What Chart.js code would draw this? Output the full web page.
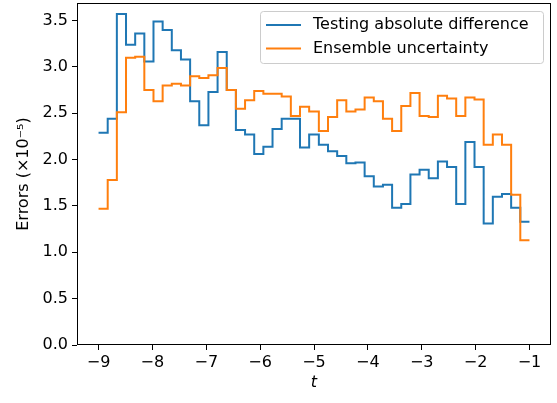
<!DOCTYPE html>
<html>
<head>
<meta charset="utf-8">
<script src="https://cdn.jsdelivr.net/npm/chart.js@4.4.0/dist/chart.umd.min.js"></script>
<style>
  html, body { margin: 0; padding: 0; background: #fff; }
  #wrap { position: relative; width: 557px; height: 403px; }
</style>
</head>
<body>
<div id="wrap"><canvas id="errChart" width="557" height="403"></canvas></div>
<script>
// ── Data (errors in units of 1e-5) ──────────────────────────────────────────
// step edges along t (48 edges -> 47 steps)
const T_EDGES = [
  -9.00, -8.83, -8.66, -8.49, -8.32, -8.15, -7.98, -7.81, -7.64, -7.47,
  -7.30, -7.13, -6.96, -6.79, -6.62, -6.45, -6.28, -6.11, -5.94, -5.77,
  -5.60, -5.43, -5.26, -5.09, -4.91, -4.74, -4.57, -4.40, -4.23, -4.06,
  -3.89, -3.72, -3.55, -3.38, -3.21, -3.04, -2.87, -2.70, -2.53, -2.36,
  -2.19, -2.02, -1.85, -1.68, -1.51, -1.34, -1.17, -1.00
];
const ABS_DIFF = [
  2.29, 2.44, 3.57, 3.24, 3.36, 3.06, 3.49, 3.40, 3.18, 3.08,
  2.63, 2.37, 2.73, 3.16, 2.75, 2.32, 2.27, 2.06, 2.14, 2.33,
  2.44, 2.44, 2.13, 2.27, 2.16, 2.09, 2.04, 1.96, 1.97, 1.82,
  1.71, 1.73, 1.48, 1.52, 1.84, 1.89, 1.80, 1.98, 1.92, 1.52,
  2.19, 1.92, 1.31, 1.60, 1.63, 1.48, 1.33
];
const ENS_UNCERT = [
  1.47, 1.78, 2.51, 3.10, 3.11, 2.75, 2.63, 2.80, 2.82, 2.80,
  2.90, 2.88, 2.91, 2.99, 2.75, 2.55, 2.64, 2.74, 2.71, 2.71,
  2.68, 2.47, 2.57, 2.52, 2.31, 2.46, 2.64, 2.52, 2.54, 2.67,
  2.63, 2.44, 2.31, 2.58, 2.72, 2.47, 2.46, 2.69, 2.66, 2.47,
  2.67, 2.65, 2.16, 2.27, 2.16, 1.62, 1.13
];
const SERIES_LABELS = ['Testing absolute difference', 'Ensemble uncertainty'];
const X_TICKS = [-9, -8, -7, -6, -5, -4, -3, -2, -1];
const Y_TICKS = [0, 0.5, 1.0, 1.5, 2.0, 2.5, 3.0, 3.5];

// ── Look ────────────────────────────────────────────────────────────────────
const FONT = "'DejaVu Sans', sans-serif";
const FS = 16;
const C_BLUE = '#1f77b4';
const C_ORANGE = '#ff7f0e';

// stairs: each value holds from edge i to edge i+1
// (Chart.js 'before' = horizontal at previous y, then vertical)
function stairs(values) {
  const pts = values.map((v, i) => ({ x: T_EDGES[i], y: v }));
  pts.push({ x: T_EDGES[T_EDGES.length - 1], y: values[values.length - 1] });
  return pts;
}

const minus = v => (v < 0 ? '\u2212' + Math.abs(v) : String(v));

// full box around the plot area (matplotlib spines)
const spinesPlugin = {
  id: 'spines',
  afterDraw(chart) {
    const { ctx, chartArea: a } = chart;
    ctx.save();
    ctx.strokeStyle = '#000';
    ctx.lineWidth = 1;
    ctx.strokeRect(Math.round(a.left) + 0.5, Math.round(a.top) + 0.5,
                   Math.round(a.right - a.left) - 1, Math.round(a.bottom - a.top) - 1);
    ctx.restore();
  }
};

// matplotlib-style legend, upper right
const legendPlugin = {
  id: 'mplLegend',
  afterDraw(chart) {
    const { ctx } = chart;
    const x = 260.5, y = 11.5, w = 283, h = 52, r = 3;
    ctx.save();
    ctx.beginPath();
    ctx.roundRect(x, y, w, h, r);
    ctx.fillStyle = 'rgba(255,255,255,0.8)';
    ctx.fill();
    ctx.strokeStyle = '#cccccc';
    ctx.lineWidth = 1;
    ctx.stroke();
    chart.data.datasets.forEach((ds, i) => {
      const ly = 25 + i * 23.5;
      ctx.beginPath();
      ctx.moveTo(266, ly);
      ctx.lineTo(301, ly);
      ctx.strokeStyle = ds.borderColor;
      ctx.lineWidth = 2;
      ctx.stroke();
      ctx.fillStyle = '#000';
      ctx.font = `${FS}px ${FONT}`;
      ctx.textBaseline = 'middle';
      ctx.fillText(ds.label, 313, ly);
    });
    ctx.restore();
  }
};

new Chart(document.getElementById('errChart'), {
  type: 'line',
  data: {
    datasets: [
      {
        label: SERIES_LABELS[0],
        data: stairs(ABS_DIFF),
        borderColor: C_BLUE,
        borderWidth: 2,
        stepped: 'before',
        pointRadius: 0,
        fill: false,
        order: 1,
      },
      {
        label: SERIES_LABELS[1],
        data: stairs(ENS_UNCERT),
        borderColor: C_ORANGE,
        borderWidth: 2,
        stepped: 'before',
        pointRadius: 0,
        fill: false,
        order: 0,
      },
    ],
  },
  options: {
    responsive: false,
    animation: false,
    devicePixelRatio: 1,
    layout: { padding: { left: 0, right: 6, top: 3, bottom: 0 } },
    plugins: { legend: { display: false }, tooltip: { enabled: false } },
    scales: {
      x: {
        type: 'linear',
        min: -9.4,
        max: -0.6,
        afterBuildTicks: s => { s.ticks = X_TICKS.map(v => ({ value: v })); },
        afterFit: s => { s.height = 58; s.paddingLeft = 0; s.paddingRight = 0; },
        ticks: {
          callback: v => minus(v),
          color: '#000',
          font: { family: FONT, size: FS },
          padding: 3,
          maxRotation: 0,
          autoSkip: false,
        },
        grid: { drawOnChartArea: false, tickLength: 5, tickColor: '#000', tickWidth: 1 },
        border: { display: false },
        title: {
          display: true,
          text: 't',
          color: '#000',
          font: { family: FONT, size: FS, style: 'italic' },
          padding: { top: 0, bottom: 11 },
        },
      },
      y: {
        min: 0,
        max: 3.69,
        afterBuildTicks: s => { s.ticks = Y_TICKS.map(v => ({ value: v })); },
        afterFit: s => { s.width = 77; s.paddingTop = 0; s.paddingBottom = 0; },
        ticks: {
          callback: v => v.toFixed(1),
          color: '#000',
          font: { family: FONT, size: FS },
          padding: 4,
        },
        grid: { drawOnChartArea: false, tickLength: 5, tickColor: '#000', tickWidth: 1 },
        border: { display: false },
        title: {
          display: true,
          text: 'Errors (\u00d710\u207b\u2075)',
          color: '#000',
          font: { family: FONT, size: FS },
          padding: { top: 14, bottom: 0 },
        },
      },
    },
  },
  plugins: [spinesPlugin, legendPlugin],
});
</script>
</body>
</html>
